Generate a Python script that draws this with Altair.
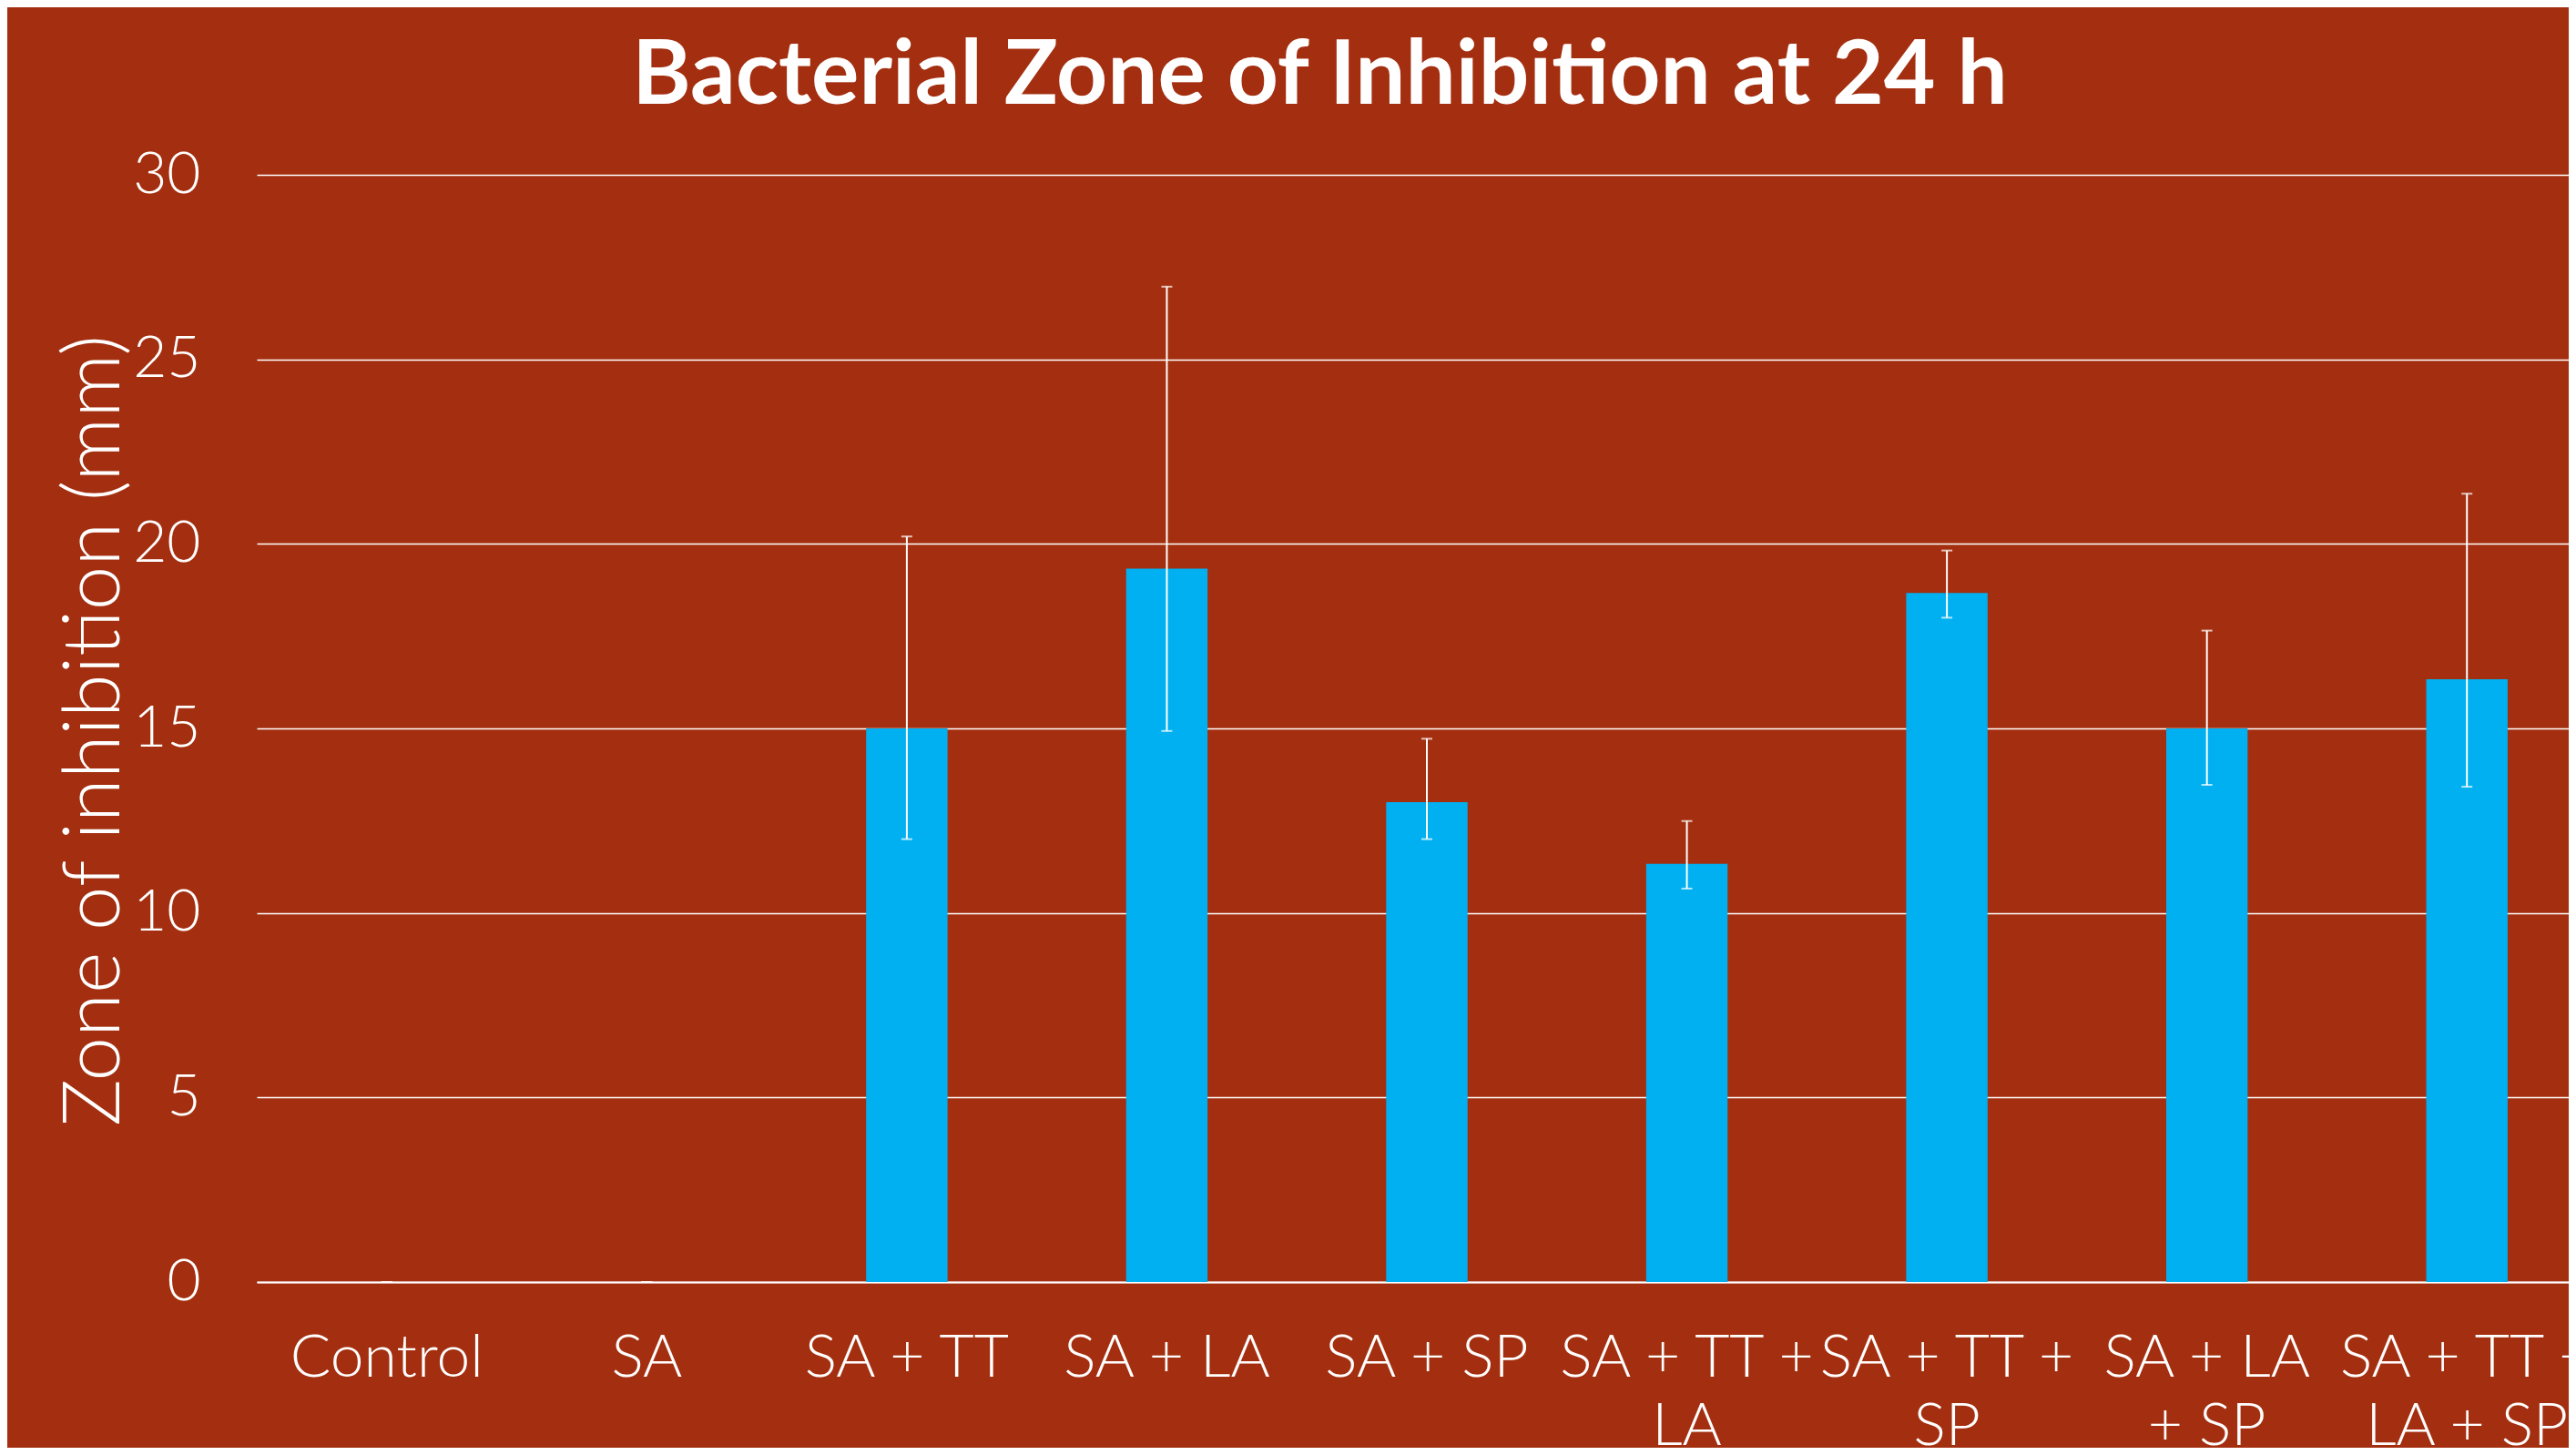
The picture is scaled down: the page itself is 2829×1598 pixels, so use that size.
import json
import altair as alt
import pandas as pd

# ---- data ----
categories = ["Control", "SA", "SA + TT", "SA + LA", "SA + SP",
              "SA + TT + LA", "SA + TT + SP", "SA + LA + SP", "SA + TT + LA + SP"]
zone_mm = [0.0, 0.0, 15.0, 19.33, 13.0, 11.33, 18.67, 15.0, 16.33]
err_low = [0.0, 0.0, 12.0, 14.93, 12.0, 10.66, 18.0, 13.47, 13.42]
err_high = [0.0, 0.0, 20.2, 26.97, 14.72, 12.49, 19.82, 17.65, 21.36]

wrapped_labels = {
    "SA + TT + LA": ["SA + TT +", "LA"],
    "SA + TT + SP": ["SA + TT +", "SP"],
    "SA + LA + SP": ["SA + LA", "+ SP"],
    "SA + TT + LA + SP": ["SA + TT +", "LA + SP"],
}
y_ticks = [0, 5, 10, 15, 20, 25, 30]

title_text = "Bacterial Zone of Inhibition at 24 h"
y_title = "Zone of inhibition (mm)"

BG = "#A42F10"
BAR = "#00B0F0"
FONT = "Lato"

df = pd.DataFrame({"cat": categories, "val": zone_mm, "lo": err_low, "hi": err_high})

label_expr = " : ".join(
    f"datum.label == {json.dumps(k)} ? {json.dumps(v)}" for k, v in wrapped_labels.items()
) + " : datum.label"

x_enc = alt.X(
    "cat:N",
    sort=categories,
    scale=alt.Scale(range=[0, 2570], paddingInner=0.687, paddingOuter=0.3435),
    axis=alt.Axis(
        title=None,
        labelAngle=0,
        labelExpr=label_expr,
        labelFont=FONT,
        labelFontWeight=300,
        labelFontSize=66,
        labelColor="white",
        labelBaseline="top",
        labelLineHeight=75,
        labelPadding=51,
        labelLimit=0,
        labelOverlap=False,
        labelBound=False,
        labelFlush=False,
        ticks=False,
        tickSize=0,
        domain=True,
        domainColor="white",
        domainWidth=2,
        grid=False,
    ),
)

y_scale = alt.Scale(domain=[0, 30], nice=False)

bars = alt.Chart(df).mark_bar(color=BAR).encode(
    x=x_enc,
    y=alt.Y(
        "val:Q",
        scale=y_scale,
        axis=alt.Axis(
            values=y_ticks,
            title=y_title,
            titleFont=FONT,
            titleFontWeight=300,
            titleFontSize=87,
            titleColor="white",
            titleAngle=270,
            titleBaseline="alphabetic",
            titleAlign="center",
            titleX=-152,
            titleY=610,
            titleLimit=0,
            labelFont=FONT,
            labelFontWeight=300,
            labelFontSize=64,
            labelColor="white",
            labelPadding=62,
            ticks=False,
            tickSize=0,
            domain=False,
            grid=True,
            gridColor="white",
            gridWidth=1.6,
        ),
    ),
)

rules = alt.Chart(df).mark_rule(color="white", strokeWidth=2).encode(
    x=alt.X("cat:N", sort=categories),
    y=alt.Y("lo:Q", scale=y_scale),
    y2="hi:Q",
)
cap_hi = alt.Chart(df).mark_tick(color="white", size=12, thickness=2, orient="horizontal").encode(
    x=alt.X("cat:N", sort=categories),
    y=alt.Y("hi:Q", scale=y_scale),
)
cap_lo = alt.Chart(df).mark_tick(color="white", size=12, thickness=2, orient="horizontal").encode(
    x=alt.X("cat:N", sort=categories),
    y=alt.Y("lo:Q", scale=y_scale),
)

chart = (
    alt.layer(bars, rules, cap_hi, cap_lo)
    .properties(
        width=2539,
        height=1216,
        padding={"left": 274, "top": 184, "right": 0, "bottom": 182},
        autosize=alt.AutoSizeParams(type="none"),
        background=BG,
        title=alt.TitleParams(
            text=title_text,
            anchor="middle",
            frame="group",
            dx=-102,
            dy=97,
            offset=45,
            baseline="alphabetic",
            font=FONT,
            fontWeight="bold",
            fontSize=98,
            color="white",
            limit=0,
        ),
    )
    .configure_view(stroke=None)
)

chart.save("out.html", embed_options={"renderer": "svg", "actions": False})
